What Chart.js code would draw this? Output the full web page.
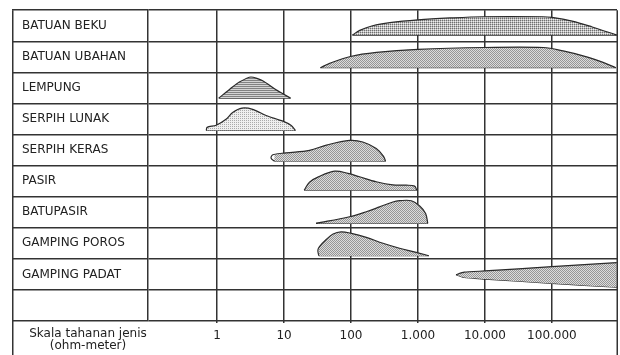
<!DOCTYPE html>
<html>
<head>
<meta charset="utf-8">
<script src="https://cdn.jsdelivr.net/npm/chart.js@4"></script>
<style>
  html, body { margin: 0; padding: 0; background: #fff; }
</style>
</head>
<body>
<canvas id="myChart" width="620" height="355"></canvas>
<script>
const rowNames = ['BATUAN BEKU', 'BATUAN UBAHAN', 'LEMPUNG', 'SERPIH LUNAK', 'SERPIH KERAS',
                  'PASIR', 'BATUPASIR', 'GAMPING POROS', 'GAMPING PADAT', ''];
const tickValues = [1, 10, 100, 1000, 10000, 100000];
const tickLabels = ['1', '10', '100', '1.000', '10.000', '100.000'];
const captionLines = ['Skala tahanan jenis', '(ohm-meter)'];

// resistivity ranges (ohm-m) and top of each shape, as fraction of its row from the top
const bekuX = [105, 135, 210, 380, 1000, 3000, 9500, 72000, 100000, 200000, 400000, 930000];
const bekuTop = [0.80, 0.65, 0.50, 0.40, 0.31, 0.25, 0.21, 0.21, 0.23, 0.35, 0.54, 0.80];

const ubahanX = [35, 48, 98, 240, 1000, 9700, 74000, 147000, 330000, 580000, 900000];
const ubahanTop = [0.85, 0.71, 0.49, 0.36, 0.26, 0.20, 0.20, 0.31, 0.50, 0.68, 0.85];

const lempungX = [1.06, 1.7, 2.15, 3.2, 4.8, 7.6, 12.5];
const lempungTop = [0.83, 0.47, 0.31, 0.15, 0.27, 0.56, 0.83];

const lunakX = [0.69, 0.71, 0.97, 1.36, 1.71, 2.36, 3.4, 5.4, 9.6, 12.8, 14.8];
const lunakTop = [0.87, 0.77, 0.70, 0.51, 0.29, 0.15, 0.19, 0.39, 0.57, 0.71, 0.87];

const kerasX = [7.2, 6.4, 6.8, 10.7, 24, 43, 95, 150, 238, 306, 328];
const kerasTop = [0.86, 0.76, 0.65, 0.59, 0.51, 0.34, 0.19, 0.24, 0.45, 0.70, 0.86];

const pasirX = [20, 24, 32, 57, 90, 134, 238, 420, 670, 890, 960];
const pasirTop = [0.79, 0.53, 0.37, 0.18, 0.25, 0.36, 0.52, 0.62, 0.63, 0.66, 0.79];

const batupasirX = [30, 95, 169, 267, 422, 531, 794, 1060, 1300, 1400];
const batupasirTop = [0.86, 0.645, 0.485, 0.33, 0.17, 0.13, 0.13, 0.30, 0.54, 0.86];

const porosX = [33, 32, 34, 43, 54, 71, 101, 169, 300, 530, 940, 1450];
const porosTop = [0.90, 0.72, 0.60, 0.37, 0.20, 0.13, 0.18, 0.31, 0.50, 0.66, 0.79, 0.90];

const padatX = [3700, 4900, 10000, 100000, 930000];
const padatTop = [0.51, 0.43, 0.39, 0.25, 0.12];
const padatBottom = [0.51, 0.60, 0.65, 0.79, 0.91];

const lineColor = '#333';
const textColor = '#222';

const canvas = document.getElementById('myChart');
const ctx = canvas.getContext('2d');

// small fill textures
function makePattern(cells, w, h) {
    const tile = document.createElement('canvas');
    tile.width = w;
    tile.height = h;
    const g = tile.getContext('2d');
    cells.forEach((c, i) => {
        g.fillStyle = c;
        g.fillRect(i % w, Math.floor(i / w), 1, 1);
    });
    return ctx.createPattern(tile, 'repeat');
}
const dots = makePattern(['#969696', '#dcdcdc', '#dcdcdc', '#969696'], 2, 2);
const grid = makePattern(['#707070', '#bcbcbc', '#bcbcbc', '#eeeeee'], 2, 2);
const stripes = makePattern(['#828282', '#d4d4d4'], 1, 2);
const light = makePattern(['#aaaaaa', '#efefef', '#efefef', '#efefef'], 2, 2);

function shape(row, xs, tops, fillPattern, curve, lowXs, lowTops) {
    const lx = lowXs || [xs[0], xs[xs.length - 1]];
    const ly = lowTops || [tops[0], tops[tops.length - 1]];
    const common = {
        borderColor: '#2a2a2a',
        borderWidth: 1.2,
        pointRadius: 0,
        pointHoverRadius: 0
    };
    return [
        Object.assign({}, common, {
            data: xs.map((x, i) => ({ x: x, y: row + tops[i] })),
            fill: '+1',
            tension: curve,
            backgroundColor: fillPattern
        }),
        Object.assign({}, common, {
            data: lx.map((x, i) => ({ x: x, y: row + ly[i] })),
            fill: false,
            tension: 0.2
        })
    ];
}

const datasets = [].concat(
    shape(0, bekuX, bekuTop, grid, 0.35),
    shape(1, ubahanX, ubahanTop, dots, 0.35),
    shape(2, lempungX, lempungTop, stripes, 0.2),
    shape(3, lunakX, lunakTop, light, 0.3),
    shape(4, kerasX, kerasTop, dots, 0.35),
    shape(5, pasirX, pasirTop, dots, 0.35),
    shape(6, batupasirX, batupasirTop, dots, 0.35),
    shape(7, porosX, porosTop, dots, 0.35),
    shape(8, padatX, padatTop, dots, 0.2, padatX, padatBottom)
);

// outer frame and the caption under the label column
const frame = {
    id: 'frame',
    afterDraw(chart) {
        const c = chart.ctx;
        const area = chart.chartArea;
        const yScale = chart.scales.y;
        const left = yScale.right - yScale.options.grid.tickLength;
        c.save();
        c.strokeStyle = lineColor;
        c.lineWidth = 1.5;
        c.beginPath();
        c.moveTo(left + 0.75, area.top);
        c.lineTo(left + 0.75, chart.height);
        c.moveTo(area.right + 0.25, area.top);
        c.lineTo(area.right + 0.25, chart.height);
        c.stroke();
        c.fillStyle = textColor;
        c.font = '12px "DejaVu Sans", Verdana, sans-serif';
        c.textAlign = 'center';
        c.textBaseline = 'middle';
        const cx = area.left - 60;
        c.fillText(captionLines[0], cx, area.bottom + 13);
        c.fillText(captionLines[1], cx, area.bottom + 25);
        c.restore();
    }
};

Chart.defaults.font.family = '"DejaVu Sans", Verdana, sans-serif';
Chart.defaults.font.size = 12;
Chart.defaults.color = textColor;

const config = {
    type: 'line',
    data: { datasets: datasets },
    options: {
        responsive: false,
        animation: false,
        devicePixelRatio: 1,
        layout: { padding: { left: 22, right: 3, top: 8, bottom: 0 } },
        plugins: {
            legend: { display: false },
            tooltip: { enabled: false }
        },
        scales: {
            x: {
                type: 'logarithmic',
                min: 0.093,
                max: 937000,
                z: 1,
                afterBuildTicks: (scale) => {
                    scale.ticks = tickValues.map(v => ({ value: v }));
                },
                afterFit: (scale) => { scale.height = 34; },
                ticks: {
                    autoSkip: false,
                    maxRotation: 0,
                    padding: 6,
                    callback: (value, index) => tickLabels[index]
                },
                grid: {
                    color: lineColor,
                    lineWidth: 1.5,
                    tickLength: 2
                },
                border: { display: false }
            },
            y: {
                type: 'linear',
                reverse: true,
                min: 0,
                max: 10,
                z: 1,
                afterBuildTicks: (scale) => {
                    scale.ticks = [];
                    for (let i = 0; i <= 20; i++) scale.ticks.push({ value: i / 2 });
                },
                afterFit: (scale) => { scale.width = 126; },
                ticks: {
                    autoSkip: false,
                    crossAlign: 'far',
                    callback: (value) => Number.isInteger(value) ? '' : rowNames[Math.floor(value)]
                },
                grid: {
                    color: (c) => (c.tick && Number.isInteger(c.tick.value)) ? lineColor : 'rgba(0,0,0,0)',
                    lineWidth: 1.5,
                    tickLength: 136
                },
                border: { display: true, color: lineColor, width: 1.5 }
            }
        }
    },
    plugins: [frame]
};

const myChart = new Chart(ctx, config);
</script>
</body>
</html>
